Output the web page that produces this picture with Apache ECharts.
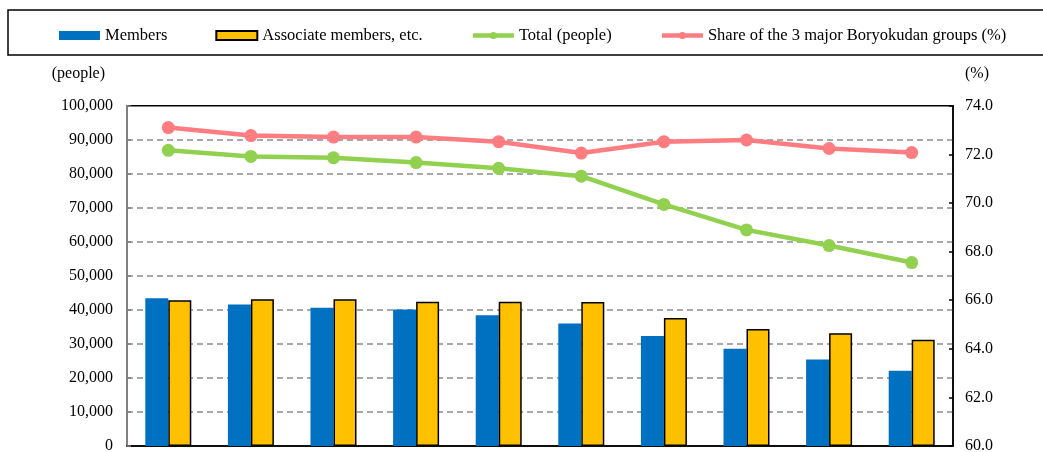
<!DOCTYPE html>
<html>
<head>
<meta charset="utf-8">
<script src="https://cdn.jsdelivr.net/npm/echarts@6/dist/echarts.min.js"></script>
<style>
html,body{margin:0;padding:0;background:#fff;}
#chart{width:1043px;height:452px;}
</style>
</head>
<body>
<div id="chart"></div>
<script>
var categories = ['2005','2006','2007','2008','2009','2010','2011','2012','2013','2014'];
var members = [43400, 41600, 40600, 40100, 38400, 36000, 32300, 28600, 25400, 22100];
var associates = [42800, 43100, 43100, 42400, 42400, 42300, 37600, 34400, 33100, 31200];
var totals = [86900, 85100, 84700, 83300, 81600, 79300, 71000, 63500, 58900, 53900];
var share = [73.1, 72.77, 72.71, 72.71, 72.52, 72.05, 72.52, 72.59, 72.24, 72.07];
var leftTicks = {min: 0, max: 100000, interval: 10000};
var rightTicks = {min: 60, max: 74, interval: 2};

var FONT = '"Liberation Serif", "Times New Roman", serif';
var chart = echarts.init(document.getElementById('chart'), null, {renderer: 'canvas'});
chart.setOption({
  animation: false,
  backgroundColor: '#fff',
  textStyle: {fontFamily: FONT, color: '#000'},
  graphic: [{
    type: 'rect', z: -1,
    shape: {x: 8, y: 10, width: 1045, height: 45},
    style: {fill: 'none', stroke: '#000', lineWidth: 1.5}
  }],
  legend: {
    left: 54, top: 22,
    itemWidth: 41, itemHeight: 9, itemGap: 48,
    textStyle: {fontFamily: FONT, fontSize: 16.5, color: '#000'},
    data: [
      {name: 'Members', icon: 'rect'},
      {name: 'Associate members, etc.', icon: 'rect'},
      {name: 'Total (people)', lineStyle: {width: 4.5}},
      {name: 'Share of the 3 major Boryokudan groups (%)', lineStyle: {width: 4.5}}
    ]
  },
  grid: {
    left: 127, right: 90, top: 105.7, bottom: 6,
    containLabel: false, outerBoundsMode: 'none',
    show: true, borderColor: '#000', borderWidth: 1.5, backgroundColor: 'transparent'
  },
  xAxis: {
    type: 'category', data: categories, boundaryGap: true,
    axisLine: {lineStyle: {color: '#000', width: 1.5}},
    axisTick: {show: false},
    axisLabel: {fontFamily: FONT, fontSize: 16, color: '#000'}
  },
  yAxis: [{
    type: 'value', min: leftTicks.min, max: leftTicks.max, interval: leftTicks.interval,
    name: '(people)', nameLocation: 'end', nameGap: 24,
    nameTextStyle: {fontFamily: FONT, fontSize: 16, color: '#000', align: 'right', padding: [0, 22, 0, 0]},
    axisLine: {show: true, lineStyle: {color: '#808080', width: 2}},
    axisTick: {show: true, inside: true, length: 4, lineStyle: {color: '#808080', width: 1.5}},
    axisLabel: {fontFamily: FONT, fontSize: 16, color: '#000', margin: 14,
      formatter: function (v) { return v.toLocaleString('en-US'); }},
    splitLine: {show: true, showMinLine: false, showMaxLine: false,
      lineStyle: {color: '#8c8c8c', width: 1.5, type: [6, 4]}}
  }, {
    type: 'value', min: rightTicks.min, max: rightTicks.max, interval: rightTicks.interval,
    position: 'right',
    name: '(%)', nameLocation: 'end', nameGap: 24,
    nameTextStyle: {fontFamily: FONT, fontSize: 16, color: '#000', align: 'left', padding: [0, 0, 0, 12]},
    axisLine: {show: true, lineStyle: {color: '#000', width: 1.5}},
    axisTick: {show: true, inside: true, length: 4, lineStyle: {color: '#000', width: 1.5}},
    axisLabel: {fontFamily: FONT, fontSize: 16, color: '#000', margin: 12,
      formatter: function (v) { return v.toFixed(1); }},
    splitLine: {show: false}
  }],
  series: [{
    name: 'Members', type: 'bar', data: members, yAxisIndex: 0,
    barWidth: 23, barGap: '0%',
    itemStyle: {color: '#0070C0'}
  }, {
    name: 'Associate members, etc.', type: 'bar', data: associates, yAxisIndex: 0,
    barWidth: 23, barGap: '0%',
    itemStyle: {color: '#FFC000', borderColor: '#000', borderWidth: 1.5}
  }, {
    name: 'Total (people)', type: 'line', data: totals, yAxisIndex: 0, z: 5,
    symbol: 'circle', symbolSize: 13,
    lineStyle: {color: '#92D050', width: 4.5},
    itemStyle: {color: '#92D050'}
  }, {
    name: 'Share of the 3 major Boryokudan groups (%)', type: 'line', data: share, yAxisIndex: 1, z: 5,
    symbol: 'circle', symbolSize: 13,
    lineStyle: {color: '#FF7C80', width: 4.5},
    itemStyle: {color: '#FF7C80'}
  }]
});
</script>
</body>
</html>
